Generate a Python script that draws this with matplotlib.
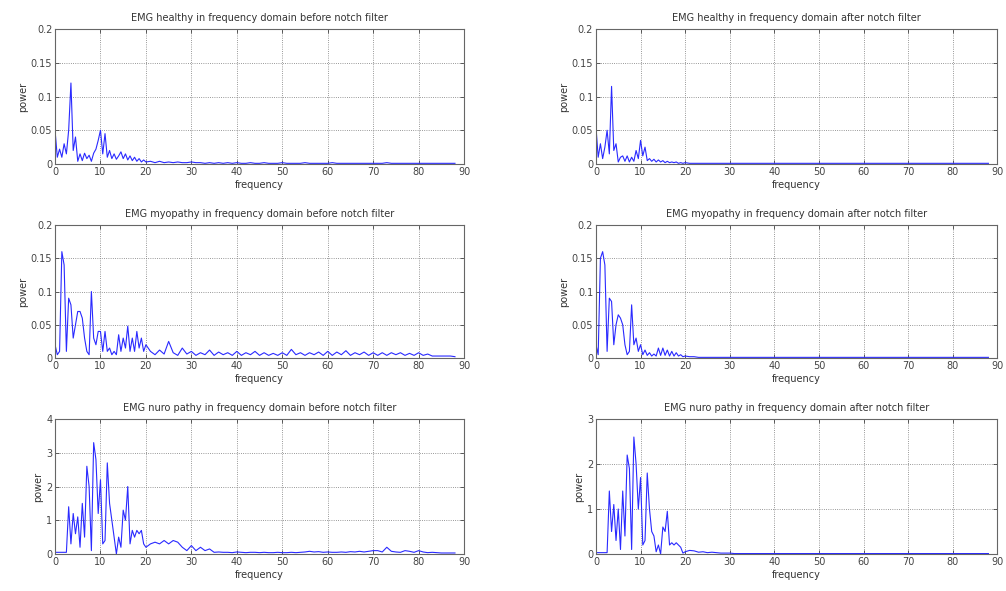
import numpy as np
import matplotlib
matplotlib.use('Agg')
import matplotlib.pyplot as plt

# frequency bins: 0..20 every 0.5 Hz, then 21..88 every 1 Hz
freq = list(np.arange(0, 20.5, 0.5)) + list(np.arange(21, 89, 1))

healthy_before = [0.05, 0.01, 0.022, 0.01, 0.03, 0.015, 0.05, 0.12, 0.02, 0.04,
                  0.004, 0.015, 0.005, 0.016, 0.008, 0.013, 0.004, 0.016, 0.022, 0.035,
                  0.05, 0.015, 0.045, 0.01, 0.02, 0.008, 0.015, 0.007, 0.012, 0.018,
                  0.008, 0.015, 0.006, 0.012, 0.005, 0.01, 0.004, 0.008, 0.003, 0.006,
                  0.003,
                  0.004, 0.002, 0.004, 0.002, 0.003, 0.002, 0.003, 0.002, 0.002, 0.003,
                  0.002, 0.002, 0.001, 0.002, 0.001, 0.002, 0.001, 0.002, 0.001, 0.002,
                  0.001, 0.001, 0.002, 0.001, 0.001, 0.002, 0.001, 0.001, 0.001, 0.002,
                  0.001, 0.001, 0.001, 0.001, 0.002, 0.001, 0.001, 0.001, 0.001, 0.001,
                  0.002, 0.001, 0.001, 0.001, 0.001, 0.001, 0.001, 0.001, 0.001, 0.001,
                  0.001, 0.001, 0.002, 0.001, 0.001, 0.001, 0.001, 0.001, 0.001, 0.001,
                  0.001, 0.001, 0.001, 0.001, 0.001, 0.001, 0.001, 0.001]

healthy_after = [0.055, 0.01, 0.03, 0.008, 0.025, 0.05, 0.015, 0.115, 0.02, 0.03,
                 0.003, 0.01, 0.012, 0.004, 0.012, 0.003, 0.01, 0.004, 0.02, 0.008,
                 0.035, 0.012, 0.025, 0.005, 0.008, 0.004, 0.007, 0.003, 0.006, 0.003,
                 0.005, 0.002, 0.004, 0.002, 0.003, 0.002, 0.003, 0.001, 0.002, 0.001,
                 0.002,
                 0.001, 0.001, 0.001, 0.001, 0.001, 0.001, 0.001, 0.001, 0.001, 0.001,
                 0.001, 0.001, 0.001, 0.001, 0.001, 0.001, 0.001, 0.001, 0.001, 0.001,
                 0.001, 0.001, 0.001, 0.001, 0.001, 0.001, 0.001, 0.001, 0.001, 0.001,
                 0.001, 0.001, 0.001, 0.001, 0.001, 0.001, 0.001, 0.001, 0.001, 0.001,
                 0.001, 0.001, 0.001, 0.001, 0.001, 0.001, 0.001, 0.001, 0.001, 0.001,
                 0.001, 0.001, 0.001, 0.001, 0.001, 0.001, 0.001, 0.001, 0.001, 0.001,
                 0.001, 0.001, 0.001, 0.001, 0.001, 0.001, 0.001, 0.001]

myopathy_before = [0.02, 0.005, 0.01, 0.16, 0.14, 0.01, 0.09, 0.08, 0.03, 0.05,
                   0.07, 0.07, 0.06, 0.03, 0.01, 0.005, 0.1, 0.03, 0.02, 0.04,
                   0.04, 0.01, 0.04, 0.01, 0.015, 0.005, 0.01, 0.005, 0.035, 0.01,
                   0.03, 0.015, 0.048, 0.01, 0.03, 0.01, 0.04, 0.015, 0.03, 0.01,
                   0.02,
                   0.01, 0.005, 0.012, 0.006, 0.025, 0.008, 0.004, 0.015, 0.006, 0.01,
                   0.004, 0.008, 0.005, 0.012, 0.004, 0.009, 0.005, 0.008, 0.004, 0.01,
                   0.004, 0.008, 0.005, 0.01, 0.004, 0.008, 0.004, 0.007, 0.004, 0.008,
                   0.004, 0.013, 0.005, 0.008, 0.004, 0.008, 0.005, 0.009, 0.004, 0.01,
                   0.004, 0.009, 0.005, 0.011, 0.004, 0.008, 0.005, 0.009, 0.004, 0.008,
                   0.004, 0.008, 0.004, 0.008, 0.005, 0.008, 0.004, 0.007, 0.004, 0.008,
                   0.004, 0.006, 0.003, 0.003, 0.003, 0.003, 0.003, 0.002]

myopathy_after = [0.02, 0.005, 0.15, 0.16, 0.14, 0.01, 0.09, 0.085, 0.02, 0.05,
                  0.065, 0.06, 0.05, 0.02, 0.005, 0.01, 0.08, 0.02, 0.03, 0.01,
                  0.02, 0.005, 0.012, 0.004, 0.008, 0.003, 0.006, 0.003, 0.015, 0.004,
                  0.015, 0.004, 0.012, 0.003, 0.01, 0.003, 0.008, 0.003, 0.005, 0.002,
                  0.003,
                  0.002, 0.002, 0.001, 0.001, 0.001, 0.001, 0.001, 0.001, 0.001, 0.001,
                  0.001, 0.001, 0.001, 0.001, 0.001, 0.001, 0.001, 0.001, 0.001, 0.001,
                  0.001, 0.001, 0.001, 0.001, 0.001, 0.001, 0.001, 0.001, 0.001, 0.001,
                  0.001, 0.001, 0.001, 0.001, 0.001, 0.001, 0.001, 0.001, 0.001, 0.001,
                  0.001, 0.001, 0.001, 0.001, 0.001, 0.001, 0.001, 0.001, 0.001, 0.001,
                  0.001, 0.001, 0.001, 0.001, 0.001, 0.001, 0.001, 0.001, 0.001, 0.001,
                  0.001, 0.001, 0.001, 0.001, 0.001, 0.001, 0.001, 0.001]

neuro_before = [0.05, 0.05, 0.05, 0.05, 0.05, 0.05, 1.4, 0.3, 1.2, 0.6,
                1.1, 0.2, 1.5, 0.5, 2.6, 2.0, 0.1, 3.3, 2.8, 1.2,
                2.2, 0.3, 0.4, 2.7, 1.5, 1.0, 0.5, 0.0, 0.5, 0.2,
                1.3, 1.0, 2.0, 0.3, 0.7, 0.5, 0.7, 0.6, 0.7, 0.3,
                0.2,
                0.3, 0.35, 0.3, 0.4, 0.3, 0.4, 0.35, 0.2, 0.1, 0.25,
                0.1, 0.2, 0.1, 0.15, 0.05, 0.06, 0.05, 0.05, 0.04, 0.06,
                0.05, 0.04, 0.05, 0.05, 0.04, 0.05, 0.04, 0.04, 0.05, 0.04,
                0.04, 0.05, 0.04, 0.05, 0.06, 0.08, 0.06, 0.07, 0.05, 0.06,
                0.05, 0.05, 0.06, 0.05, 0.07, 0.06, 0.08, 0.06, 0.08, 0.1,
                0.1, 0.06, 0.2, 0.08, 0.06, 0.05, 0.1, 0.08, 0.05, 0.1,
                0.06, 0.04, 0.05, 0.04, 0.03, 0.03, 0.03, 0.03]

neuro_after = [0.03, 0.03, 0.03, 0.03, 0.03, 0.03, 1.4, 0.5, 1.1, 0.3,
               1.0, 0.1, 1.4, 0.4, 2.2, 1.9, 0.1, 2.6, 2.0, 1.0,
               1.7, 0.2, 0.3, 1.8, 1.0, 0.5, 0.4, 0.05, 0.2, 0.0,
               0.6, 0.5, 0.95, 0.2, 0.25, 0.2, 0.25, 0.2, 0.15, 0.02,
               0.05,
               0.08, 0.07, 0.04, 0.05, 0.03, 0.04, 0.03, 0.02, 0.02, 0.02,
               0.01, 0.01, 0.01, 0.01, 0.01, 0.01, 0.01, 0.01, 0.01, 0.01,
               0.01, 0.01, 0.01, 0.01, 0.01, 0.01, 0.01, 0.01, 0.01, 0.01,
               0.01, 0.01, 0.01, 0.01, 0.01, 0.01, 0.01, 0.01, 0.01, 0.01,
               0.01, 0.01, 0.01, 0.01, 0.01, 0.01, 0.01, 0.01, 0.01, 0.01,
               0.01, 0.01, 0.01, 0.01, 0.01, 0.01, 0.01, 0.01, 0.01, 0.01,
               0.01, 0.01, 0.01, 0.01, 0.01, 0.01, 0.01, 0.01]

titles = ['EMG healthy in frequency domain before notch filter',
          'EMG healthy in frequency domain after notch filter',
          'EMG myopathy in frequency domain before notch filter',
          'EMG myopathy in frequency domain after notch filter',
          'EMG nuro pathy in frequency domain before notch filter',
          'EMG nuro pathy in frequency domain after notch filter']
series = [healthy_before, healthy_after, myopathy_before, myopathy_after,
          neuro_before, neuro_after]
small_ticks = [0, 0.05, 0.1, 0.15, 0.2]
small_labels = ['0', '0.05', '0.1', '0.15', '0.2']
yticks = [(small_ticks, small_labels), (small_ticks, small_labels),
          (small_ticks, small_labels), (small_ticks, small_labels),
          ([0, 1, 2, 3, 4], ['0', '1', '2', '3', '4']),
          ([0, 1, 2, 3], ['0', '1', '2', '3'])]
xticks = [0, 10, 20, 30, 40, 50, 60, 70, 80, 90]

fig = plt.figure(figsize=(10.06, 5.91), dpi=100)

# right column is a bit narrower so its last tick label stays inside
lefts = [0.0547, 0.5924]
widths = [0.4066, 0.3990]
bottoms = [0.7225, 0.3942, 0.0626]
heights = [0.2284, 0.225, 0.2284]

for i in range(6):
    r, c = i // 2, i % 2
    ax = fig.add_axes([lefts[c], bottoms[r], widths[c], heights[r]])
    ax.plot(freq, series[i], color='#2a2aff', linewidth=0.8)
    ax.set_xlim(0, 90)
    ticks, labels = yticks[i]
    ax.set_ylim(ticks[0], ticks[-1])
    ax.set_yticks(ticks)
    ax.set_yticklabels(labels)
    ax.set_xticks(xticks)
    ax.tick_params(direction='in', top=True, right=True, labelsize=7,
                   colors='#444444', length=3, width=0.6, pad=2)
    ax.grid(True, linestyle=':', color='#777777', linewidth=0.6)
    for s in ax.spines.values():
        s.set_color('#666666')
        s.set_linewidth(0.8)
    ax.set_title(titles[i], fontsize=7, color='#333333', pad=6)
    ax.set_xlabel('frequency', fontsize=7, color='#333333', labelpad=2)
    ax.set_ylabel('power', fontsize=7, color='#333333', labelpad=2)

fig.savefig('out.png', dpi=100)
